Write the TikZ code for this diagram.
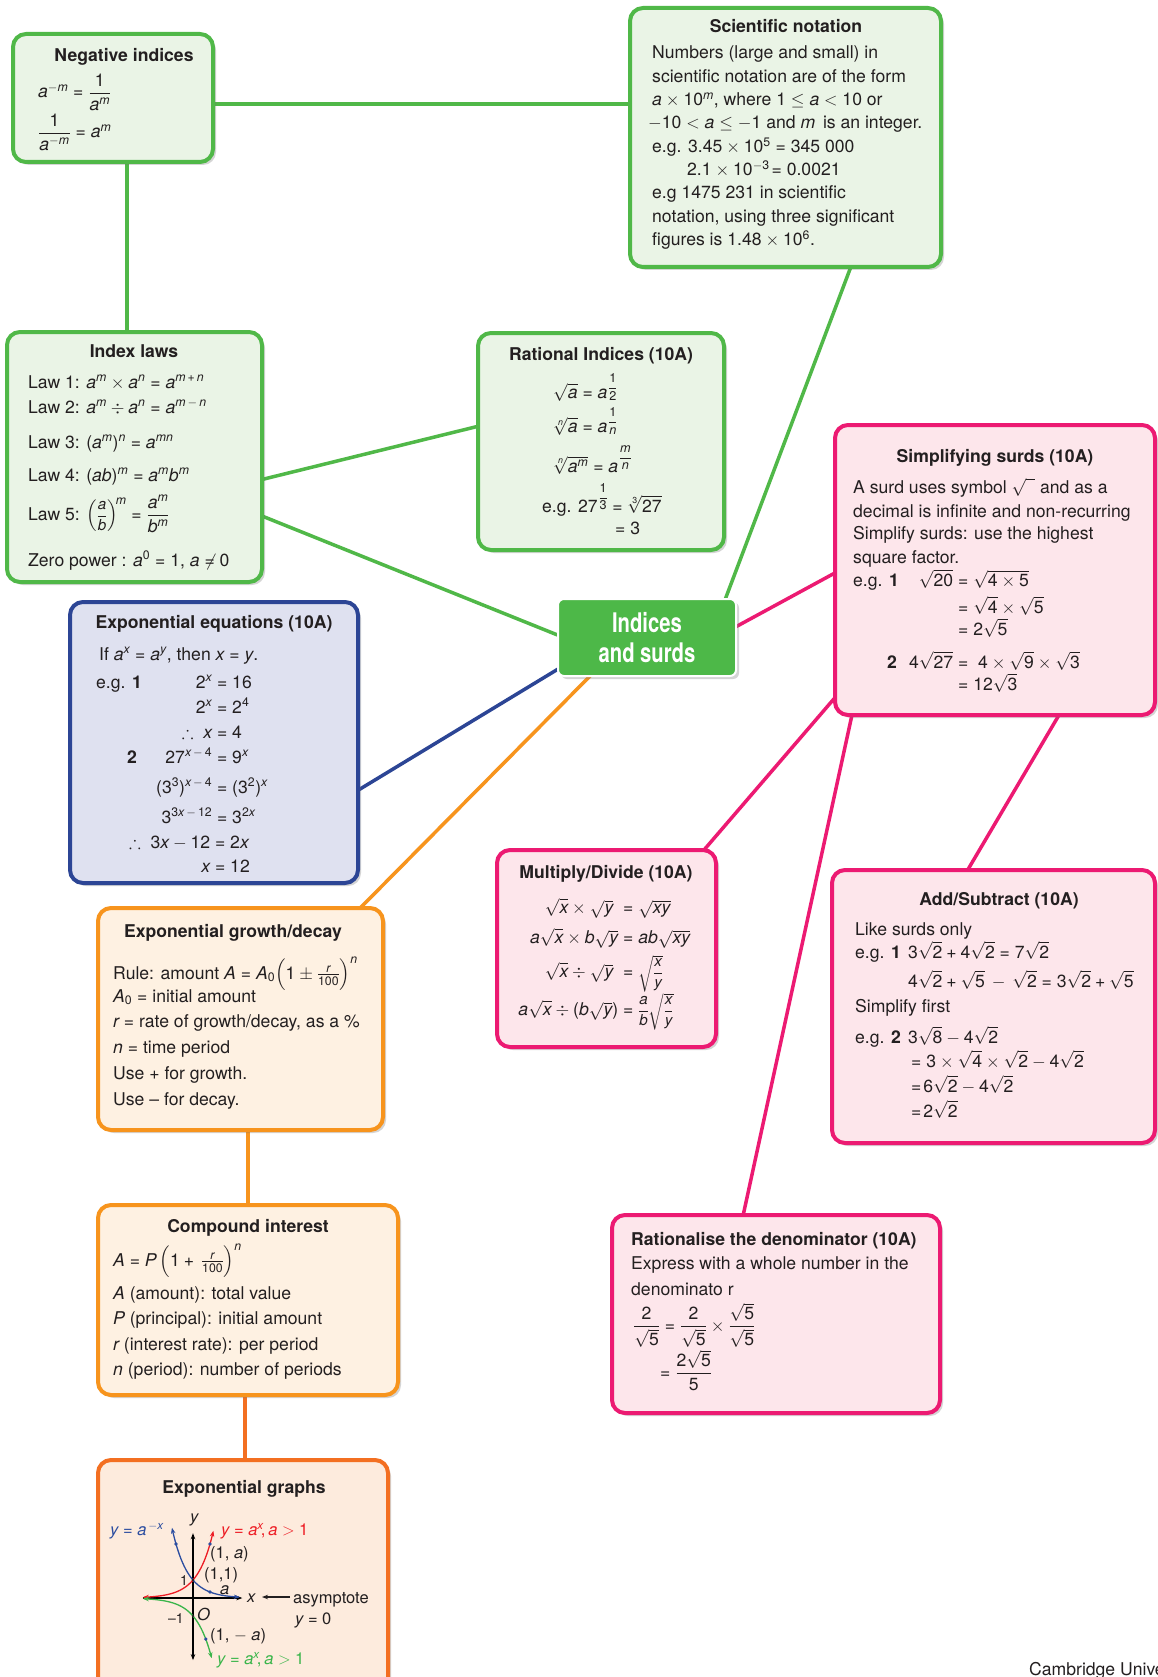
\RequirePackage{fix-cm}
\documentclass[tikz,border=0pt]{standalone}
\usepackage{amsmath,amssymb,graphicx}
\usepackage{fontspec}
\setmainfont{TeX Gyre Heros}[NFSSFamily=heros]
\newfontfamily\cnd{TeX Gyre Heros}[FakeStretch=0.75]
\DeclareSymbolFont{sfit}{TU}{heros}{m}{it}
\DeclareSymbolFont{sfup}{TU}{heros}{m}{n}
\AtBeginDocument{%
\DeclareMathSymbol{a}{\mathalpha}{sfit}{`a}%
\DeclareMathSymbol{b}{\mathalpha}{sfit}{`b}%
\DeclareMathSymbol{m}{\mathalpha}{sfit}{`m}%
\DeclareMathSymbol{n}{\mathalpha}{sfit}{`n}%
\DeclareMathSymbol{x}{\mathalpha}{sfit}{`x}%
\DeclareMathSymbol{y}{\mathalpha}{sfit}{`y}%
\DeclareMathSymbol{r}{\mathalpha}{sfit}{`r}%
\DeclareMathSymbol{A}{\mathalpha}{sfit}{`A}%
\DeclareMathSymbol{P}{\mathalpha}{sfit}{`P}%
\DeclareMathSymbol{O}{\mathalpha}{sfit}{`O}%
\DeclareMathSymbol{0}{\mathalpha}{sfup}{`0}%
\DeclareMathSymbol{1}{\mathalpha}{sfup}{`1}%
\DeclareMathSymbol{2}{\mathalpha}{sfup}{`2}%
\DeclareMathSymbol{3}{\mathalpha}{sfup}{`3}%
\DeclareMathSymbol{4}{\mathalpha}{sfup}{`4}%
\DeclareMathSymbol{5}{\mathalpha}{sfup}{`5}%
\DeclareMathSymbol{6}{\mathalpha}{sfup}{`6}%
\DeclareMathSymbol{7}{\mathalpha}{sfup}{`7}%
\DeclareMathSymbol{8}{\mathalpha}{sfup}{`8}%
\DeclareMathSymbol{9}{\mathalpha}{sfup}{`9}%
\DeclareMathSymbol{=}{\mathrel}{sfup}{`=}%
\DeclareMathSymbol{+}{\mathbin}{sfup}{`+}%
\DeclareMathSymbol{(}{\mathopen}{sfup}{`(}%
\DeclareMathSymbol{)}{\mathclose}{sfup}{`)}%
\DeclareMathSymbol{.}{\mathord}{sfup}{`.}%
\DeclareMathSymbol{,}{\mathpunct}{sfup}{`,}%
}
\usetikzlibrary{calc,shadows,arrows.meta}
\pgfdeclarelayer{background}
\pgfsetlayers{background,main}

\definecolor{gB}{HTML}{50B848}
\definecolor{gF}{HTML}{EAF4E6}
\definecolor{pB}{HTML}{EC1A72}
\definecolor{pF}{HTML}{FDE6EB}
\definecolor{bB}{HTML}{2C4595}
\definecolor{bF}{HTML}{DFE1F0}
\definecolor{oB}{HTML}{F7941D}
\definecolor{oF}{HTML}{FEF1E2}
\definecolor{rB}{HTML}{F36F21}
\definecolor{rF}{HTML}{FDEBDD}
\definecolor{cG}{HTML}{4DB848}
\definecolor{ink}{HTML}{231F20}
\definecolor{gBlue}{HTML}{2B4DA0}
\definecolor{gRed}{HTML}{ED1C24}
\definecolor{gGreen}{HTML}{3AB54A}

\newcommand\sfr[2]{\scalebox{0.72}{$\dfrac{#1}{#2}$}}
\newcommand\rex[3]{\mkern1mu\raisebox{#1}{\sfr{#2}{#3}}}
\newcommand\cfr[2]{\scalebox{0.86}{$\dfrac{#1}{#2}$}}
\newcounter{tl}
\newcommand\lineL[4][]{\stepcounter{tl}\node[txt,#1] (tl\arabic{tl}) at (#2,#3) {#4};}
\newcommand\lineC[3]{\stepcounter{tl}\node[ttl] (tl\arabic{tl}) at (#1,#2) {#3};}
\newcommand\lineE[4]{\stepcounter{tl}\node[txt] (tl\arabic{tl}) at (#1,#2) {\llap{$#3$}${}=#4$};}
\newcommand\boxN[6]{\node[#1,minimum width={(#4-#2)*1pt},minimum height={(#5-#3)*1pt}] (#6) at (#2,#3) {};}

\tikzset{
  box/.style={anchor=north west, inner sep=0pt, outer sep=0pt, line width=4pt, rounded corners=13pt,
    drop shadow={shadow xshift=3pt, shadow yshift=-3pt, opacity=0.3, fill=black!55}},
  gbox/.style={box, draw=gB, fill=gF},
  pbox/.style={box, draw=pB, fill=pF},
  bbox/.style={box, draw=bB, fill=bF},
  obox/.style={box, draw=oB, fill=oF},
  rbox/.style={box, draw=rB, fill=rF},
  txt/.style={anchor=base west, inner sep=0pt, text=ink, font=\fontsize{17.6}{21}\selectfont},
  ttl/.style={anchor=base, inner sep=0pt, text=ink, font=\fontsize{17.6}{21}\selectfont\bfseries},
  link/.style={line width=3.5pt},
  gl/.style={txt, font=\fontsize{16.5}{20}\selectfont},
}

\begin{document}
\begin{tikzpicture}[x=1pt,y=-1pt]
\useasboundingbox (0,0) rectangle (1157,1677);
\begin{pgfonlayer}{background}
\fill[white] (0,0) rectangle (1157,1677);
\end{pgfonlayer}

% ---------- boxes ----------
\boxN{gbox}{13}{34}{213}{162}{neg}
\boxN{gbox}{630}{8}{941}{267}{sci}
\boxN{gbox}{7}{332}{262}{582}{idx}
\boxN{gbox}{478}{333}{724}{550}{rat}
\boxN{pbox}{835}{425}{1155}{715}{simp}
\boxN{bbox}{70}{602}{358}{883}{expeq}
\boxN{pbox}{497}{850}{716}{1047}{mult}
\boxN{pbox}{832}{870}{1155}{1143}{add}
\boxN{obox}{98}{908}{383}{1130}{grow}
\boxN{obox}{98}{1205}{398}{1395}{comp}
\boxN{pbox}{612}{1215}{940}{1413}{ratl}
\boxN{rbox}{98}{1460}{388}{1700}{graph}

\node[anchor=north west, minimum width=178pt, minimum height=77pt, inner sep=0pt, outer sep=0pt,
  fill=cG, draw=white, line width=2pt, rounded corners=6pt,
  drop shadow={shadow xshift=3pt, shadow yshift=-3pt, opacity=0.3, fill=black!55},
  text=white, align=center, font=\cnd\bfseries\fontsize{27}{30}\selectfont] (ctr) at (558,599) {Indices\\and surds};

% ---------- connectors ----------
\begin{pgfonlayer}{background}
\coordinate (c1) at ($(neg.north east)!0.547!(neg.south east)$);
\draw[link,gB] (c1) -- (c1 -| sci.west);
\coordinate (c2) at ($(neg.south west)!0.57!(neg.south east)$);
\draw[link,gB] (c2) -- (c2 |- idx.north);
\draw[link,gB] ($(idx.north east)!0.59!(idx.south east)$) -- ($(rat.north west)!0.43!(rat.south west)$);
\draw[link,gB] ($(idx.north east)!0.736!(idx.south east)$) -- ($(ctr.north west)!0.47!(ctr.south west)$);
\draw[link,gB] ($(sci.south west)!0.71!(sci.south east)$) -- ($(ctr.north west)!0.94!(ctr.north east)$);
\draw[link,pB] ($(ctr.north east)!0.36!(ctr.south east)$) -- ($(simp.north west)!0.51!(simp.south west)$);
\draw[link,bB] ($(ctr.north west)!0.91!(ctr.south west)$) -- ($(expeq.north east)!0.67!(expeq.south east)$);
\draw[link,oB] ($(ctr.south west)!0.18!(ctr.south east)$) -- ($(grow.north west)!0.92!(grow.north east)$);
\draw[link,pB] ($(simp.north west)!0.94!(simp.south west)$) -- ($(mult.north west)!0.945!(mult.north east)$);
\draw[link,pB] ($(simp.south west)!0.053!(simp.south east)$) -- ($(ratl.north west)!0.40!(ratl.north east)$);
\draw[link,pB] ($(simp.south west)!0.70!(simp.south east)$) -- ($(add.north west)!0.42!(add.north east)$);
\coordinate (c12) at ($(grow.south west)!0.526!(grow.south east)$);
\draw[link,oB] (c12) -- (c12 |- comp.north);
\coordinate (c13) at ($(comp.south west)!0.49!(comp.south east)$);
\draw[link,rB] (c13) -- (c13 |- graph.north);
\end{pgfonlayer}

% ---------- Negative indices ----------
\lineC{124}{62}{Negative indices}
\lineL{38}{98}{$a^{-m}=\dfrac{1}{a^m}$}
\lineL{38}{138}{$\dfrac{1}{a^{-m}}=a^m$}

% ---------- Scientific notation ----------
\lineC{786}{33}{Scientific notation}
\lineL{652}{59}{Numbers (large and small) in}
\lineL{652}{83}{scientific notation are of the form}
\lineL{652}{106}{$a\times 10^m$, where $1\le a<10$ or}
\lineL{648}{129}{$-10<a\le -1$ and $m$\, is an integer.}
\lineL{652}{153}{e.g. $3.45\times 10^5=345\;000$}
\lineL{687}{176}{$2.1\times 10^{-3}\!=0.0021$}
\lineL{652}{199}{e.g 1475 231 in scientific}
\lineL{652}{223}{notation, using three significant}
\lineL{652}{246}{figures is $1.48\times 10^6$.}

% ---------- Index laws ----------
\lineC{134}{357}{Index laws}
\lineL{28}{388}{Law 1: $a^m\times a^n=a^{m\,+\,n}$}
\lineL{28}{413}{Law 2: $a^m\div a^n=a^{m\,-\,n}$}
\lineL{28}{448}{Law 3: $(a^m)^n=a^{mn}$}
\lineL{28}{481}{Law 4: $(ab)^m=a^mb^m$}
\lineL{28}{520}{Law 5: $\left(\cfr{a}{b}\right)^{\!m}=\dfrac{a^m}{b^m}$}
\lineL{28}{566}{Zero power : $a^0=$ 1, $a\neq 0$}

% ---------- Rational indices ----------
\lineC{601}{360}{Rational Indices (10A)}
\lineL{553}{398}{$\sqrt{a}=a\rex{6.5pt}{1}{2}$}
\lineL{553}{432}{$\sqrt[n]{a}=a\rex{6.5pt}{1}{n}$}
\lineL{553}{472}{$\sqrt[n]{a^m}=a\rex{11pt}{m}{n}$}
\lineL{542}{512}{e.g. $27\rex{11pt}{1}{3}=\sqrt[3]{27}$}
\lineL{615}{534}{$=3$}

% ---------- Simplifying surds ----------
\lineC{995}{462}{Simplifying surds (10A)}
\lineL{853}{493}{A surd uses symbol $\sqrt{\phantom{x}}$ and as a}
\lineL{853}{517}{decimal is infinite and non-recurring}
\lineL{853}{539}{Simplify surds: use the highest}
\lineL{853}{563}{square factor.}
\lineL{853}{586}{e.g. \textbf{1}}
\lineE{953}{586}{\sqrt{20}}{\sqrt{4\times 5}}
\lineL{953}{613}{${}=\sqrt{4}\times\sqrt{5}$}
\lineL{953}{635}{${}=2\sqrt{5}$}
\lineL{887}{668}{\textbf{2}}
\lineE{953}{668}{4\sqrt{27}}{\ 4\times\sqrt{9}\times\sqrt{3}}
\lineL{953}{690}{${}=12\sqrt{3}$}

% ---------- Exponential equations ----------
\lineC{214}{628}{Exponential equations (10A)}
\lineL{99}{660}{If $a^x=a^y$, then $x=y$.}
\lineL{96}{688}{e.g. \textbf{1}}
\lineE{212}{688}{2^x}{16}
\lineE{212}{713}{2^x}{2^4}
\lineE{212}{738}{\therefore\ x}{4}
\lineL{127}{763}{\textbf{2}}
\lineE{212}{763}{27^{x\,-\,4}}{9^x}
\lineE{212}{793}{(3^3)^{x\,-\,4}}{(3^2)^x}
\lineE{212}{823}{3^{3x\,-\,12}}{3^{2x}}
\lineE{210}{848}{\therefore\ 3x-12}{2x}
\lineE{210}{872}{x}{12}

% ---------- Multiply / Divide ----------
\lineC{606}{878}{Multiply/Divide (10A)}
\lineE{618}{913}{\sqrt{x}\times\sqrt{y}\ }{\sqrt{xy}}
\lineE{618}{943}{a\sqrt{x}\times b\sqrt{y}}{ab\sqrt{xy}}
\lineE{618}{977}{\sqrt{x}\div\sqrt{y}\ }{\scalebox{0.86}{$\sqrt{\dfrac{x}{y}}$}}
\lineE{618}{1015}{a\sqrt{x}\div(b\sqrt{y})}{\scalebox{0.86}{$\dfrac{a}{b}\sqrt{\dfrac{x}{y}}$}}

% ---------- Add / Subtract ----------
\lineC{999}{905}{Add/Subtract (10A)}
\lineL{855}{935}{Like surds only}
\lineL{855}{958}{e.g. \textbf{1}}
\lineL{908}{958}{$3\sqrt{2}+4\sqrt{2}=7\sqrt{2}$}
\lineL{908}{987}{$4\sqrt{2}+\sqrt{5}\,-\,\sqrt{2}=3\sqrt{2}+\sqrt{5}$}
\lineL{855}{1012}{Simplify first}
\lineL{855}{1043}{e.g. \textbf{2}}
\lineL{908}{1043}{$3\sqrt{8}-4\sqrt{2}$}
\lineL{911}{1067}{$=3\times\sqrt{4}\times\sqrt{2}-4\sqrt{2}$}
\lineL{911}{1092}{$=\!6\sqrt{2}-4\sqrt{2}$}
\lineL{911}{1117}{$=\!2\sqrt{2}$}

% ---------- Exponential growth/decay ----------
\lineC{233}{937}{Exponential growth/decay}
\lineL{113}{979}{Rule: amount $A=A_0\Bigl(1\pm\frac{r}{100}\Bigr)^{n}$}
\lineL{113}{1002}{$A_0=$ initial amount}
\lineL{113}{1027}{$r=$ rate of growth/decay, as a \%}
\lineL{113}{1053}{$n=$ time period}
\lineL{113}{1079}{Use + for growth.}
\lineL{113}{1105}{Use – for decay.}

% ---------- Compound interest ----------
\lineC{248}{1232}{Compound interest}
\lineL{113}{1266}{$A=P\,\Bigl(1+\,\frac{r}{100}\Bigr)^{n}$}
\lineL{113}{1299}{$A$ (amount): total value}
\lineL{113}{1324}{$P$ (principal): initial amount}
\lineL{113}{1350}{$r$ (interest rate): per period}
\lineL{113}{1375}{$n$ (period): number of periods}

% ---------- Rationalise ----------
\lineL{631}{1245}{\textbf{Rationalise the denominator (10A)}}
\lineL{631}{1269}{Express with a whole number in the}
\lineL{631}{1295}{denominato r}
\lineL{633}{1331}{$\dfrac{2}{\sqrt{5}}=\dfrac{2}{\sqrt{5}}\times\dfrac{\sqrt{5}}{\sqrt{5}}$}
\lineL{660}{1378}{$=\dfrac{2\sqrt{5}}{5}$}

% ---------- Exponential graphs ----------
\lineC{244}{1493}{Exponential graphs}
\begin{scope}[shift={(193,1598)},x=17pt,y=18pt]
  \coordinate (yb) at (0,-3.45);
  \coordinate (yt) at (0,3.6);
  \coordinate (xl) at (-2.95,0);
  \coordinate (xr) at (2.9,0);
  \draw[line width=1.3pt,{Stealth[length=6pt]}-{Stealth[length=6pt]}] (yb) -- (yt);
  \draw[line width=1.3pt,-{Stealth[length=6pt]}] (xl) -- (xr);
  \draw[gBlue,line width=1.3pt,{Stealth[length=6pt]}-{Stealth[length=6pt]}]
    plot[domain=-1.24:2.75,smooth,samples=40] (\x,{exp(-\x*ln(3))});
  \draw[gRed,line width=1.3pt,{Stealth[length=6pt]}-{Stealth[length=6pt]}]
    plot[domain=-2.95:1.2,smooth,samples=40] (\x,{exp(\x*ln(3))});
  \draw[gGreen,line width=1.3pt,{Stealth[length=6pt]}-{Stealth[length=6pt]}]
    plot[domain=-2.95:1.1,smooth,samples=40] (\x,{-exp(\x*ln(3))});
  \fill[gBlue] (-1,3) circle (1.8pt);
  \fill[gBlue] (1,{1/3}) circle (1.8pt);
  \fill[gBlue] (1,3) circle (1.8pt);
  \fill[gBlue] (0.75,{-exp(0.75*ln(3))}) circle (1.8pt);
  \fill[ink] (0,1) circle (1.3pt);
  \fill[ink] (0,-1) circle (1.3pt);
\end{scope}
\lineL[gl,text=gBlue]{110}{1535}{$y=a^{\,-x}$}
\lineL[gl,text=gRed]{221}{1535}{$y=a^x\!,a>1$}
\lineL[gl]{210}{1558}{(1, $a$)}
\lineL[gl]{204}{1579}{(1,1)}
\lineL[gl]{220}{1594}{$a$}
\lineL[gl]{190}{1522}{$y$}
\lineL[gl]{247}{1602}{$x$}
\lineL[gl]{197}{1620}{$O$}
\lineL[gl,font=\fontsize{14}{16}\selectfont]{180}{1585}{1}
\lineL[gl,font=\fontsize{14}{16}\selectfont]{168}{1623}{–1}
\coordinate (asA) at (290,1597);
\coordinate (asB) at (262,1597);
\draw[line width=1.3pt,ink,-{Stealth[length=6pt]}] (asA) -- (asB);
\lineL[gl]{293}{1603}{asymptote}
\lineL[gl]{295}{1624}{$y=0$}
\lineL[gl]{210}{1640}{(1, $-\ a$)}
\lineL[gl,text=gGreen]{217}{1664}{$y=a^x\!,a>1$}

% ---------- footer ----------
\lineL{1029}{1675}{Cambridge University Press}
\end{tikzpicture}
\end{document}
